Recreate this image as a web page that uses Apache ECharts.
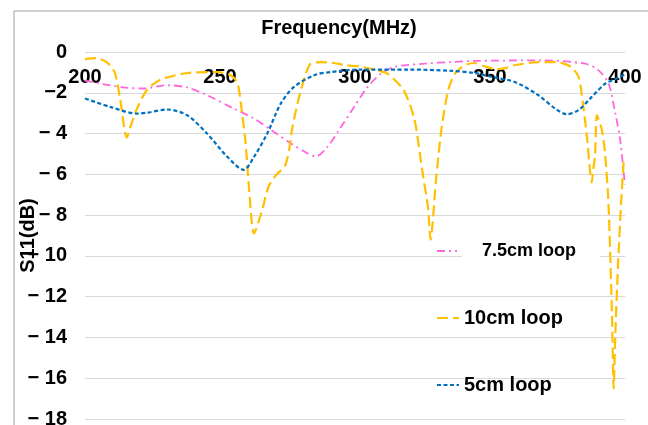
<!DOCTYPE html>
<html>
<head>
<meta charset="utf-8">
<script src="https://cdn.jsdelivr.net/npm/echarts@6/dist/echarts.min.js"></script>
<style>html,body{margin:0;padding:0;background:#fff;}#c{width:648px;height:425px;}</style>
</head>
<body>
<div id="c"></div>
<script>
// ---- data (frequency in MHz, S11 in dB) ----
const seriesNames = ['7.5cm loop', '10cm loop', '5cm loop'];
const xTicks = [200, 250, 300, 350, 400];
const yTicks = [0, -2, -4, -6, -8, -10, -12, -14, -16, -18];

const freq75 = [200, 209, 215, 221.7, 230.4, 237.8, 245.2, 255, 262.6, 270, 276.2, 282.4, 285.5, 289.8, 294.2, 299.7, 304.7, 309.7, 314.6, 325.8, 335.7, 344.3, 368, 385.2, 390.2, 393.9, 396.4, 398.2, 399.5, 400];
const s11_75 = [-1.4, -1.63, -1.75, -1.79, -1.63, -1.74, -2.12, -2.77, -3.26, -3.92, -4.48, -4.97, -5.12, -4.65, -3.8, -2.69, -1.71, -1.06, -0.73, -0.57, -0.49, -0.44, -0.41, -0.57, -0.9, -1.55, -3.0, -4.3, -5.9, -6.5];

const freq10 = [200, 204, 208, 211, 213, 215.5, 217, 219, 223, 228, 238, 249, 254, 256.4, 257.6, 259.5, 260.7, 262.6, 265.5, 268, 271, 274, 275.6, 276.8, 279.3, 281.8, 283.6, 287.4, 292, 297, 302, 308, 312, 318, 322, 325, 327, 328, 330, 332, 334.5, 337, 340.6, 344.3, 348, 352, 355.5, 359, 368, 375, 380, 382.8, 384.6, 386, 387.1, 387.7, 388.3, 388.9, 389.6, 391.4, 392.7, 393.9, 395.2, 395.8, 396.4, 397.4, 398.6, 399.5];
const s11_10 = [-0.35, -0.3, -0.5, -1.0, -2.3, -4.2, -3.6, -2.85, -1.85, -1.35, -1.03, -0.98, -1.14, -1.5, -2.4, -4.5, -6.6, -8.9, -7.8, -6.6, -6.0, -5.6, -4.8, -3.7, -2.2, -1.06, -0.57, -0.5, -0.54, -0.65, -0.72, -0.9, -1.06, -1.87, -3.3, -5.9, -7.6, -9.2, -6.3, -3.8, -1.87, -1.06, -0.65, -0.54, -0.7, -0.85, -0.8, -0.65, -0.5, -0.5, -0.73, -1.22, -2.7, -4.3, -5.9, -6.4, -5.7, -5.1, -3.1, -3.8, -5.1, -7.5, -13, -16.5, -13.9, -10.5, -7.3, -5.4];

const freq5 = [200, 209.3, 219.2, 222.9, 230.4, 237.8, 245.2, 252.7, 258.8, 262.6, 267.5, 272.5, 277.4, 284.9, 291.1, 302, 320, 335, 344.3, 350.6, 359.2, 367.9, 374.1, 378.4, 382.8, 387.7, 392.7, 396, 400];
const s11_5 = [-2.28, -2.69, -3.02, -2.98, -2.82, -3.1, -4.0, -5.14, -5.78, -5.14, -4.0, -2.53, -1.71, -1.14, -0.98, -0.86, -0.86, -0.92, -1.03, -1.22, -1.47, -2.12, -2.77, -3.05, -2.85, -2.2, -1.55, -1.35, -1.1];

const colors = ['#ff66dd', '#ffc000', '#0070c0'];
// ---------------------------------------------

function pairs(xs, ys) { return xs.map((x, i) => [x, ys[i]]); }
const FONT = '"Liberation Sans", Arial, sans-serif';
const hiddenSymbol = {color: 'rgba(0,0,0,0)', borderColor: 'rgba(0,0,0,0)', borderWidth: 0, opacity: 0};

const chart = echarts.init(document.getElementById('c'), null, {renderer: 'canvas'});
chart.setOption({
  animation: false,
  backgroundColor: '#fff',
  graphic: [{
    type: 'rect', silent: true, z: -1,
    shape: {x: 14, y: 11, width: 700, height: 500},
    style: {fill: 'none', stroke: '#a0a0a0', lineWidth: 1}
  }],
  title: {
    text: 'Frequency(MHz)', left: 334, top: 13, textAlign: 'center',
    textStyle: {fontFamily: FONT, fontWeight: 'bold', fontSize: 20, color: '#000'}
  },
  grid: {left: 85, right: 23, top: 52, bottom: 6, containLabel: false, outerBoundsMode: 'none'},
  xAxis: {
    type: 'value', position: 'top', min: xTicks[0], max: xTicks[xTicks.length - 1], interval: 50,
    axisLine: {show: false}, axisTick: {show: false}, splitLine: {show: false},
    axisLabel: {inside: true, margin: 15, fontFamily: FONT, fontWeight: 'bold', fontSize: 20, color: '#000'}
  },
  yAxis: {
    type: 'value', min: yTicks[yTicks.length - 1], max: yTicks[0], interval: 2,
    name: 'S11(dB)', nameLocation: 'middle', nameGap: 47, nameRotate: 90, nameMoveOverlap: false,
    nameTextStyle: {fontFamily: FONT, fontWeight: 'bold', fontSize: 20, color: '#000'},
    axisLine: {show: false}, axisTick: {show: false},
    splitLine: {show: true, lineStyle: {color: '#d9d9d9', width: 1}},
    axisLabel: {
      margin: 18, fontFamily: FONT, fontWeight: 'bold', fontSize: 20, color: '#000',
      formatter: function (v) {
        if (v === 0) return '0';
        if (v === -2) return '\u22122';
        return '\u2212 ' + Math.abs(v);
      }
    }
  },
  legend: [
    {
      data: [seriesNames[0]], left: 436, top: 240, padding: 0, itemWidth: 20, itemHeight: 12,
      itemStyle: hiddenSymbol,
      textStyle: {fontFamily: FONT, fontWeight: 'bold', fontSize: 18, color: '#000',
        backgroundColor: '#fff', padding: [2, 24, 2, 20]}
    },
    {
      data: [seriesNames[1]], left: 436, top: 308, padding: 0, itemWidth: 22, itemHeight: 12,
      itemStyle: hiddenSymbol,
      textStyle: {fontFamily: FONT, fontWeight: 'bold', fontSize: 20, color: '#000'}
    },
    {
      data: [seriesNames[2]], left: 436, top: 375, padding: 0, itemWidth: 22, itemHeight: 12,
      itemStyle: hiddenSymbol,
      textStyle: {fontFamily: FONT, fontWeight: 'bold', fontSize: 20, color: '#000'}
    }
  ],
  series: [
    {
      name: seriesNames[0], type: 'line', data: pairs(freq75, s11_75), smooth: 0.3,
      symbol: 'none', color: colors[0],
      lineStyle: {width: 1.8, color: colors[0], type: [8, 4, 2, 4]}
    },
    {
      name: seriesNames[1], type: 'line', data: pairs(freq10, s11_10), smooth: 0.25,
      symbol: 'none', color: colors[1],
      lineStyle: {width: 2.2, color: colors[1], type: [11, 5]}
    },
    {
      name: seriesNames[2], type: 'line', data: pairs(freq5, s11_5), smooth: 0.3,
      symbol: 'none', color: colors[2],
      lineStyle: {width: 2.2, color: colors[2], type: [4, 2.5]}
    }
  ]
});
</script>
</body>
</html>
